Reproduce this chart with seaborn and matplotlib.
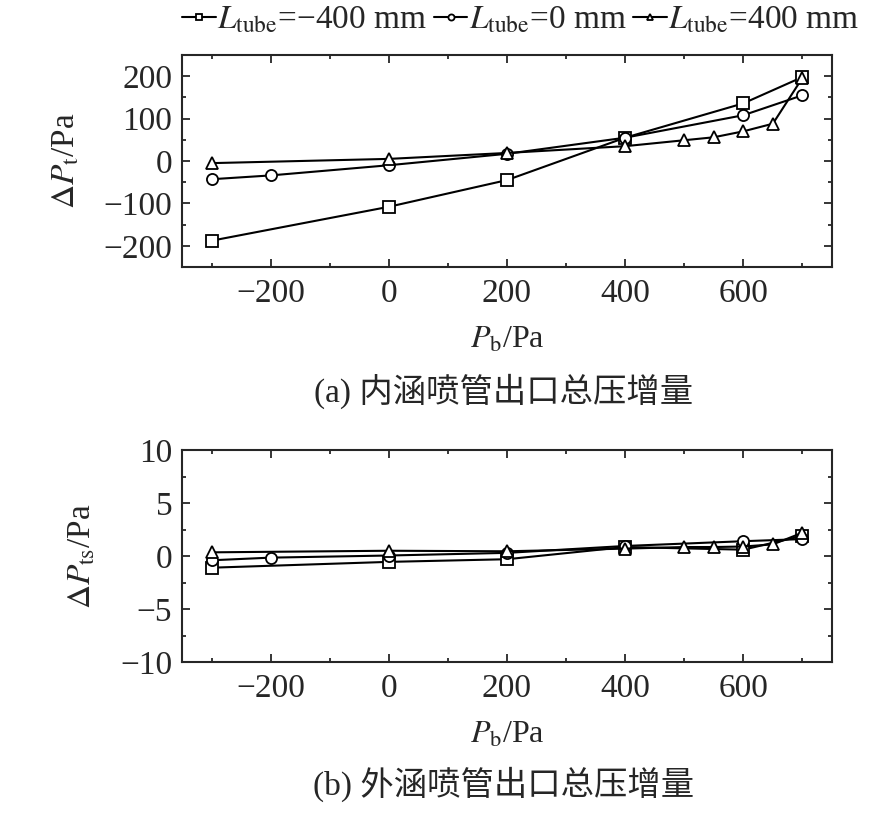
import numpy as np
import pandas as pd
import matplotlib
matplotlib.use("Agg")
import matplotlib.pyplot as plt
from matplotlib.ticker import MultipleLocator
import seaborn as sns

# back pressure values for each tube length
pb_neg400 = [-300, 0, 200, 400, 600, 700]
pb_0 = [-300, -200, 0, 200, 400, 600, 700]
pb_400 = [-300, 0, 200, 400, 500, 550, 600, 650, 700]

# (a) inner nozzle total pressure increment
dpt_neg400 = [-188, -108, -45, 55, 136, 198]
dpt_0 = [-43, -34, -10, 17, 55, 108, 155]
dpt_400 = [-5, 5, 19, 35, 49, 56, 70, 88, 196]

# (b) outer nozzle total pressure increment
dpts_neg400 = [-1.1, -0.55, -0.3, 0.85, 0.6, 1.9]
dpts_0 = [-0.4, -0.15, 0.05, 0.3, 0.95, 1.4, 1.6]
dpts_400 = [0.35, 0.5, 0.45, 0.7, 0.85, 0.85, 0.9, 1.1, 2.2]

labels = [r"$L_{\mathrm{tube}}$=−400 mm", r"$L_{\mathrm{tube}}$=0 mm", r"$L_{\mathrm{tube}}$=400 mm"]
markers = ["s", "o", "^"]
captions = ["(a) 内涵喷管出口总压增量", "(b) 外涵喷管出口总压增量"]

sns.set_theme(style="ticks")
plt.rcParams["font.family"] = ["Liberation Serif", "Noto Sans CJK SC"]
plt.rcParams["mathtext.fontset"] = "stix"
plt.rcParams["axes.unicode_minus"] = True

fig = plt.figure(figsize=(8.86, 8.14), dpi=100)
ax1 = fig.add_axes([0.2054, 0.672, 0.7336, 0.2604])
ax2 = fig.add_axes([0.2054, 0.1867, 0.7336, 0.2604])

xs = [pb_neg400, pb_0, pb_400]
for ax, ys in [(ax1, [dpt_neg400, dpt_0, dpt_400]), (ax2, [dpts_neg400, dpts_0, dpts_400])]:
    for x, y, m, lab in zip(xs, ys, markers, labels):
        sns.lineplot(x=x, y=y, ax=ax, color="black", linewidth=1.5, marker=m,
                     markersize=8, markerfacecolor="white", markeredgecolor="black",
                     markeredgewidth=1.3, label=lab, legend=False)
    ax.set_xlim(-350, 750)
    ax.xaxis.set_major_locator(MultipleLocator(200))
    ax.xaxis.set_minor_locator(MultipleLocator(100))
    ax.tick_params(which="both", direction="in", top=True, right=True, labelsize=24, width=1.3)
    ax.tick_params(which="major", length=6)
    ax.tick_params(which="minor", length=3)
    ax.tick_params(axis="x", pad=8)
    ax.tick_params(axis="y", pad=7)
    for s in ax.spines.values():
        s.set_linewidth(1.5)
    ax.set_xlabel(r"$P_{\mathrm{b}}$/Pa", fontsize=23, labelpad=12)

ax1.set_ylim(-250, 250)
ax1.yaxis.set_major_locator(MultipleLocator(100))
ax1.yaxis.set_minor_locator(MultipleLocator(50))
ax1.set_ylabel(r"$\Delta P_{\mathrm{t}}$/Pa", fontsize=24, labelpad=16)

ax2.set_ylim(-10, 10)
ax2.yaxis.set_major_locator(MultipleLocator(5))
ax2.yaxis.set_minor_locator(MultipleLocator(2.5))
ax2.set_ylabel(r"$\Delta P_{\mathrm{ts}}$/Pa", fontsize=24, labelpad=16)

fig.text(504 / 886, 1 - 391 / 814, captions[0], ha="center", va="center", fontsize=24)
fig.text(504 / 886, 1 - 784 / 814, captions[1], ha="center", va="center", fontsize=24)

handles, labs = ax1.get_legend_handles_labels()
fig.legend(handles, labs, loc="center", bbox_to_anchor=(521 / 886, 1 - 20 / 814), ncol=3,
           frameon=False, fontsize=24, handlelength=1.0, handletextpad=0.05,
           columnspacing=0.2, markerscale=0.55, borderaxespad=0, borderpad=0)

fig.savefig("out.png", dpi=100)
